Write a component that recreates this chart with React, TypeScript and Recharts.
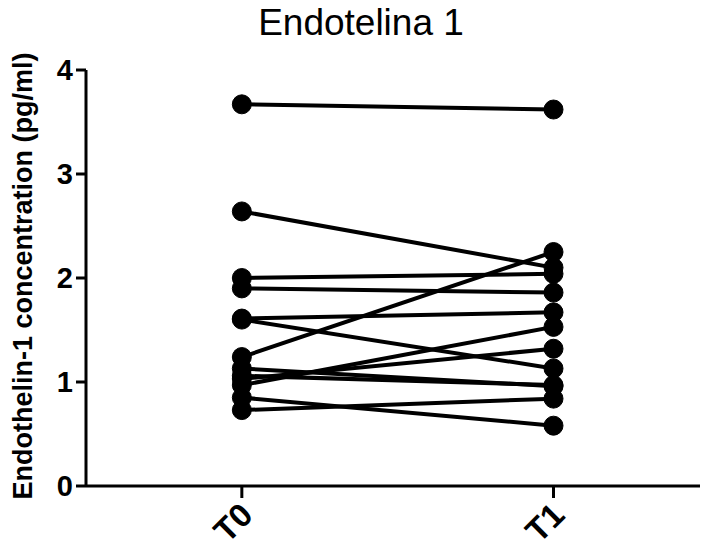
import React from 'react';
import { LineChart, Line, XAxis, YAxis, Label } from 'recharts';

// paired measurements per subject
const timepoints = ['T0', 'T1'];
const t0Values = [3.67, 2.64, 2.0, 1.9, 1.61, 1.6, 1.24, 1.13, 1.06, 1.03, 0.97, 0.85, 0.73];
const t1Values = [3.62, 2.1, 2.04, 1.86, 1.67, 1.13, 2.25, 0.96, 0.97, 1.32, 1.53, 0.58, 0.84];
const yTicks = [0, 1, 2, 3, 4];

const rows = timepoints.map((tp, i) => {
    const row: any = { x: i, name: tp };
    const vals = i === 0 ? t0Values : t1Values;
    vals.forEach((v, k) => {
        row['s' + k] = v;
    });
    return row;
});

const FONT = '"Liberation Sans", Arial, sans-serif';

function XTick(props: any) {
    const { x, y, payload } = props;
    return (
        <g transform={`translate(${x},${y})`}>
            <text
                x={-4}
                y={0}
                textAnchor="end"
                transform="rotate(-45 -4 0)"
                dominantBaseline="hanging"
                style={{ fontFamily: FONT, fontWeight: 'bold', fontSize: 33, fill: '#000' }}
            >
                {timepoints[payload.value]}
            </text>
        </g>
    );
}

function YTitle(props: any) {
    const { viewBox } = props;
    const cy = viewBox.y + viewBox.height / 2 - 2;
    return (
        <text
            x={32}
            y={cy}
            textAnchor="middle"
            transform={`rotate(-90 32 ${cy})`}
            style={{ fontFamily: FONT, fontWeight: 'bold', fontSize: 27, fill: '#000' }}
        >
            Endothelin-1 concentration (pg/ml)
        </text>
    );
}

export default function App() {
    return (
        <div style={{ position: 'absolute', left: 0, top: 0, width: 706, height: 549, background: '#fff' }}>
            <div
                style={{
                    position: 'absolute',
                    left: 0,
                    width: 722,
                    top: 2,
                    textAlign: 'center',
                    fontFamily: FONT,
                    fontSize: 37,
                    color: '#000',
                }}
            >
                Endotelina 1
            </div>
            <LineChart
                width={706}
                height={549}
                data={rows}
                margin={{ top: 70, right: 6, bottom: 0, left: 0 }}
            >
                <XAxis
                    dataKey="x"
                    type="number"
                    domain={[-0.5, 1.47]}
                    ticks={[0, 1]}
                    allowDataOverflow
                    height={63}
                    axisLine={{ stroke: '#000', strokeWidth: 3 }}
                    tickLine={{ stroke: '#000', strokeWidth: 3 }}
                    tickSize={12}
                    tick={<XTick />}
                />
                <YAxis
                    type="number"
                    domain={[0, 4]}
                    ticks={yTicks}
                    width={86}
                    axisLine={{ stroke: '#000', strokeWidth: 3 }}
                    tickLine={{ stroke: '#000', strokeWidth: 3 }}
                    tickSize={10}
                    tickMargin={3}
                    tick={{ fill: '#000', fontSize: 29, fontWeight: 'bold', fontFamily: FONT }}
                >
                    <Label content={<YTitle />} />
                </YAxis>
                {t0Values.map((_, k) => (
                    <Line
                        key={k}
                        dataKey={'s' + k}
                        stroke="#000"
                        strokeWidth={4}
                        dot={{ r: 9.5, fill: '#000', stroke: '#000', strokeWidth: 1 }}
                        activeDot={false}
                        isAnimationActive={false}
                    />
                ))}
            </LineChart>
        </div>
    );
}
